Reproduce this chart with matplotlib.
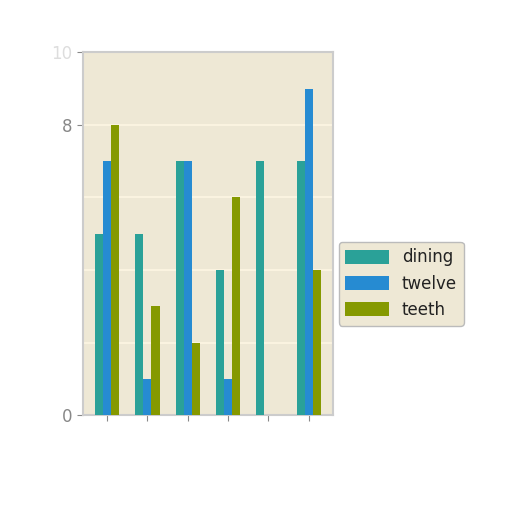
import matplotlib
matplotlib.use("Agg")
import matplotlib.pyplot as plt
import numpy as np

# data
groups = [0, 1, 2, 3, 4, 5]
series_names = ["dining", "twelve", "teeth"]
dining = [5, 5, 7, 4, 7, 7]
twelve = [7, 1, 7, 1, 0, 9]
teeth = [8, 3, 2, 6, 0, 4]
y_ticks = [0, 8, 10]
y_tick_labels = ["0", "8", "10"]
grid_levels = [2, 4, 6, 8]

colors = {
    "dining": "#2aa198",
    "twelve": "#268bd2",
    "teeth": "#859900",
    "bg": "#eee8d5",
    "grid": "#fdf6e3",
    "tick": "#888888",
}

fig = plt.figure(figsize=(5.12, 5.12), dpi=100)
ax = fig.add_axes([0.162, 0.189, 0.488, 0.709])
ax.set_facecolor(colors["bg"])

x = np.array(groups, dtype=float)
width = 0.2
for i, (name, vals) in enumerate(zip(series_names, [dining, twelve, teeth])):
    ax.bar(x + (i - 1) * width, vals, width, color=colors[name], label=name, zorder=3)

for g in grid_levels:
    ax.axhline(g, color=colors["grid"], lw=1.2, zorder=1)

ax.set_xlim(-0.6, 5.6)
ax.set_ylim(0, 10)
ax.set_xticks(x)
ax.set_xticklabels([""] * len(groups))
ax.set_yticks(y_ticks)
ax.set_yticklabels(y_tick_labels)
ax.tick_params(axis="both", colors=colors["tick"], labelsize=12, length=4)
ax.get_yticklabels()[-1].set_color("#dddddd")

for s in ax.spines.values():
    s.set_color("#cccccc")
    s.set_linewidth(1.5)

leg = ax.legend(loc="center left", bbox_to_anchor=(0.99, 0.362), fontsize=12,
                facecolor=colors["bg"], edgecolor="#bbbbbb", framealpha=1,
                handlelength=2.6, handleheight=0.9, handletextpad=0.8)
for t in leg.get_texts():
    t.set_color("#222222")

fig.savefig("out.png", dpi=100, facecolor="white")
